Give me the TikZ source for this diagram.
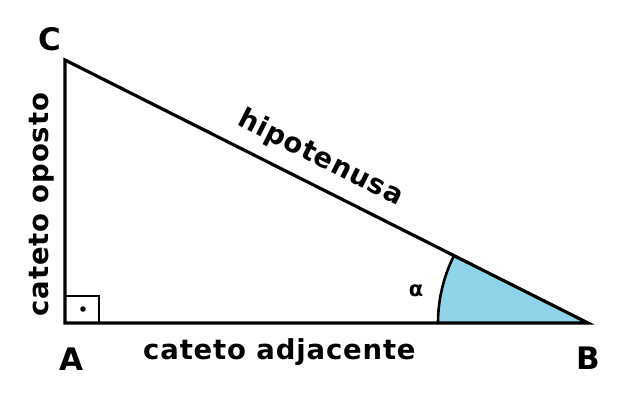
\documentclass[tikz,border=0pt]{standalone}
\usepackage{fontspec}
\setmainfont{DejaVu Sans}
\usetikzlibrary{angles,positioning}

\definecolor{anglefill}{RGB}{143,212,232}

\begin{document}
\begin{tikzpicture}[x=1pt,y=1pt,
    side/.style={line width=3.2pt,line join=miter},
    vertexlabel/.style={font=\fontsize{31}{31}\selectfont\bfseries,inner sep=0pt},
    sidelabel/.style={font=\fontsize{27.5}{28}\selectfont\bfseries\addfontfeature{LetterSpace=3},inner sep=0pt}
    ]
    \useasboundingbox (0,0) rectangle (630,412);
    \coordinate (A) at (65,89);
    \coordinate (B) at (588,89);
    \coordinate (C) at (65,352);
    % angle alpha
    \pic[draw,line width=2.6pt,fill=anglefill,angle radius=150pt] {angle=C--B--A};
    % right angle mark
    \draw[line width=1.6pt] (A) rectangle ++(34,27);
    \fill (83,103) circle (2.8);
    \draw[side] (A) -- node[sidelabel,pos=0.41,below=14pt] (adj) {cateto adjacente}
        (B) -- node[sidelabel,pos=0.535,sloped,above=12pt] (hyp) {hipotenusa}
        (C) -- cycle;
    \path (A) -- node[sidelabel,pos=0.45,sloped,above=11pt] (opp) {cateto oposto} (C);
    \node[vertexlabel] (labelA) at (71,53) {A};
    \node[vertexlabel] (labelB) at (588,54) {B};
    \node[vertexlabel] (labelC) at (50,373) {C};
    \node[font=\fontsize{21}{21}\selectfont\bfseries] (alpha) at (416,121) {α};
\end{tikzpicture}
\end{document}
